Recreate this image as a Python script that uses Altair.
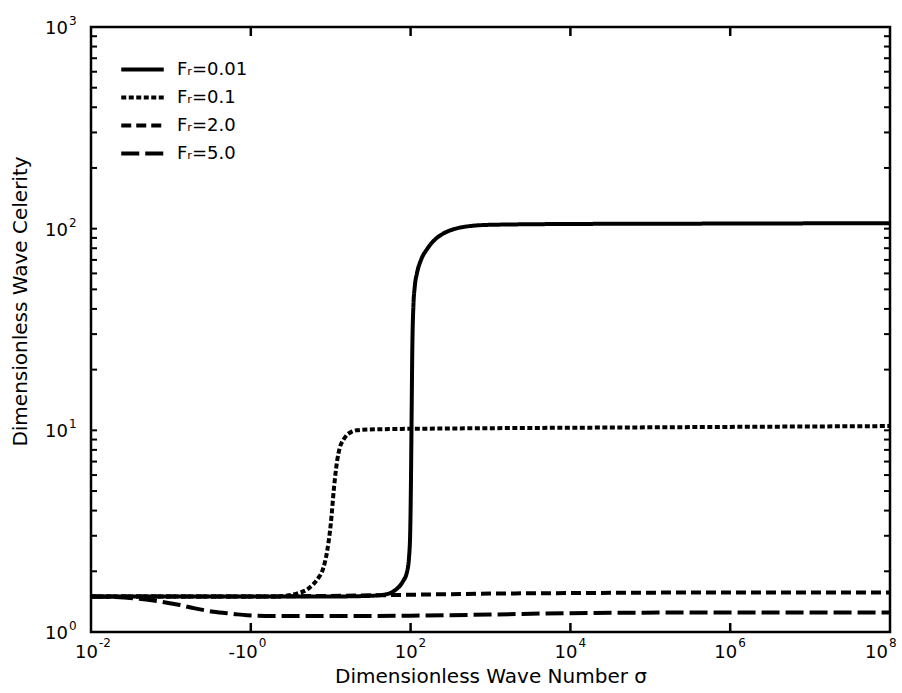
import altair as alt
import pandas as pd

# Froude-number cases and their celerity curves c(sigma)
series_names = ["Fᵣ=0.01", "Fᵣ=0.1", "Fᵣ=2.0", "Fᵣ=5.0"]

sigma_fr001 = [0.01, 0.1, 1, 10, 30, 50, 65, 80, 90, 96, 99, 101, 103, 105, 108,
               113, 120, 135, 160, 200, 250, 350, 500, 1000, 1e4, 1e6, 1e8]
celer_fr001 = [1.5, 1.5, 1.5, 1.5, 1.51, 1.54, 1.62, 1.78, 1.98, 2.4, 3.2, 5.5, 12,
               25, 40, 52, 60, 70, 79, 88, 94, 99.5, 102.5, 104.5, 105.5, 106, 106.5]

sigma_fr01 = [0.01, 0.1, 1, 2, 3, 4, 5, 6, 7, 8, 9, 10, 11, 12, 13, 14.5, 16, 18,
              21, 30, 60, 200, 1e3, 1e4, 1e6, 1e8]
celer_fr01 = [1.5, 1.5, 1.5, 1.5, 1.52, 1.56, 1.62, 1.72, 1.85, 2.05, 2.5, 3.4, 5.2,
              7.0, 8.2, 9.0, 9.5, 9.8, 10.0, 10.1, 10.15, 10.2, 10.25, 10.3, 10.4, 10.5]

sigma_fr2 = [0.01, 0.1, 1, 10, 100, 1e3, 1e4, 1e6, 1e8]
celer_fr2 = [1.5, 1.5, 1.5, 1.51, 1.53, 1.55, 1.56, 1.57, 1.57]

sigma_fr5 = [0.01, 0.02, 0.04, 0.07, 0.13, 0.2, 0.34, 0.6, 0.9, 2, 30, 100, 1000,
             1e4, 1e6, 1e8]
celer_fr5 = [1.5, 1.49, 1.46, 1.42, 1.36, 1.31, 1.26, 1.23, 1.21, 1.2, 1.2, 1.205,
             1.22, 1.24, 1.25, 1.25]

# Tick labels written as mantissa plus raised exponent
x_tick_values = [1e-2, 1, 1e2, 1e4, 1e6, 1e8]
x_tick_base = ["10", "-10", "10", "10", "10", "10"]
x_tick_exp = ["-2", "0", "2", "4", "6", "8"]
y_tick_values = [1, 10, 100, 1000]
y_tick_base = ["10", "10", "10", "10"]
y_tick_exp = ["0", "1", "2", "3"]

# Inward tick marks drawn inside the frame
x_inner_ticks = [1, 1e2, 1e4, 1e6]
y_inner_ticks = [2, 3, 4, 5, 6, 7, 8, 9, 10, 20, 30, 40, 50, 60, 70, 80, 90, 100,
                 200, 300, 400, 500, 600, 700, 800, 900]

dash_patterns = [[1, 0], [5, 2.5], [10, 5], [18, 6]]

rows = []
for name, xs, ys in zip(series_names,
                        [sigma_fr001, sigma_fr01, sigma_fr2, sigma_fr5],
                        [celer_fr001, celer_fr01, celer_fr2, celer_fr5]):
    for i, (s, c) in enumerate(zip(xs, ys)):
        rows.append({"sigma": s, "celerity": c, "series": name, "idx": i})
df = pd.DataFrame(rows)

W, H = 799, 605
FONT = "DejaVu Sans"

x_scale = alt.Scale(type="log", domain=[1e-2, 1e8], nice=False)
y_scale = alt.Scale(type="log", domain=[1, 1e3], nice=False)

x_axis = alt.Axis(
    labels=False, grid=False, ticks=False, domain=False,
    title="Dimensionless Wave Number  σ",
    titleFont=FONT, titleFontSize=20, titleFontWeight="normal", titleColor="black",
    titleY=44, titleBaseline="middle",
)
y_axis = alt.Axis(
    labels=False, grid=False, ticks=False, domain=False,
    title="Dimensionless Wave Celerity",
    titleFont=FONT, titleFontSize=20, titleFontWeight="normal", titleColor="black",
    titleAngle=270, titleX=-71, titleY=274, titleAlign="center", titleBaseline="middle",
)

legend = alt.Legend(
    title=None, orient="none", legendX=41, legendY=32, padding=0,
    symbolType="M-2.5,0H2.5", symbolSize=289, symbolStrokeWidth=4,
    symbolStrokeColor="black", symbolFillColor="transparent",
    labelFont=FONT, labelFontSize=18, labelColor="black", labelOffset=24,
    rowPadding=8, labelLimit=200,
)

curves = alt.Chart(df).mark_line(color="black", strokeWidth=4,
                                 interpolate="monotone").encode(
    x=alt.X("sigma:Q", scale=x_scale, axis=x_axis),
    y=alt.Y("celerity:Q", scale=y_scale, axis=y_axis),
    strokeDash=alt.StrokeDash("series:N",
                              scale=alt.Scale(domain=series_names, range=dash_patterns),
                              legend=legend),
    order="idx:Q",
)

xt = pd.DataFrame({"sigma": x_inner_ticks})
yt = pd.DataFrame({"celerity": y_inner_ticks})

ticks_bottom = alt.Chart(xt).mark_rule(color="black", strokeWidth=2.5).encode(
    x=alt.X("sigma:Q", scale=x_scale, axis=x_axis),
    y=alt.value(H), y2=alt.value(H - 9),
)
ticks_top = alt.Chart(xt).mark_rule(color="black", strokeWidth=2.5).encode(
    x=alt.X("sigma:Q", scale=x_scale, axis=x_axis),
    y=alt.value(0), y2=alt.value(9),
)
ticks_left = alt.Chart(yt).mark_rule(color="black", strokeWidth=2).encode(
    y=alt.Y("celerity:Q", scale=y_scale, axis=y_axis),
    x=alt.value(0), x2=alt.value(6),
)
ticks_right = alt.Chart(yt).mark_rule(color="black", strokeWidth=2).encode(
    y=alt.Y("celerity:Q", scale=y_scale, axis=y_axis),
    x=alt.value(W), x2=alt.value(W - 6),
)

# Power-of-ten tick labels
xl = pd.DataFrame({"sigma": x_tick_values, "base": x_tick_base, "exp": x_tick_exp})
yl = pd.DataFrame({"celerity": y_tick_values, "base": y_tick_base, "exp": y_tick_exp})

base_style = dict(font=FONT, fontSize=18, color="black", baseline="middle", align="right")
exp_style = dict(font=FONT, fontSize=12, color="black", baseline="middle", align="left")

x_inner = alt.Chart(xl).transform_filter("datum.sigma < 1e7")
x_last = alt.Chart(xl).transform_filter("datum.sigma >= 1e7")

x_base = x_inner.mark_text(dx=7, **base_style).encode(
    x=alt.X("sigma:Q", scale=x_scale, axis=x_axis), y=alt.value(H + 21), text="base:N")
x_exp = x_inner.mark_text(dx=8, **exp_style).encode(
    x=alt.X("sigma:Q", scale=x_scale, axis=x_axis), y=alt.value(H + 11), text="exp:N")
x_base_last = x_last.mark_text(dx=-2, **base_style).encode(
    x=alt.X("sigma:Q", scale=x_scale, axis=x_axis), y=alt.value(H + 21), text="base:N")
x_exp_last = x_last.mark_text(dx=-1, **exp_style).encode(
    x=alt.X("sigma:Q", scale=x_scale, axis=x_axis), y=alt.value(H + 11), text="exp:N")

y_base = alt.Chart(yl).mark_text(dy=2, **base_style).encode(
    y=alt.Y("celerity:Q", scale=y_scale, axis=y_axis), x=alt.value(-23), text="base:N")
y_exp = alt.Chart(yl).mark_text(dy=-6, **exp_style).encode(
    y=alt.Y("celerity:Q", scale=y_scale, axis=y_axis), x=alt.value(-22), text="exp:N")

chart = alt.layer(
    ticks_bottom, ticks_top, ticks_left, ticks_right,
    x_base, x_exp, x_base_last, x_exp_last, y_base, y_exp,
    curves,
).properties(
    width=W, height=H,
    padding={"left": 91, "top": 27, "right": 12, "bottom": 61},
    autosize=alt.AutoSizeParams(type="none"),
    background="white",
).configure_view(
    stroke="black", strokeWidth=2.5
)

chart.save("out.html", embed_options={"renderer": "svg", "actions": False})
